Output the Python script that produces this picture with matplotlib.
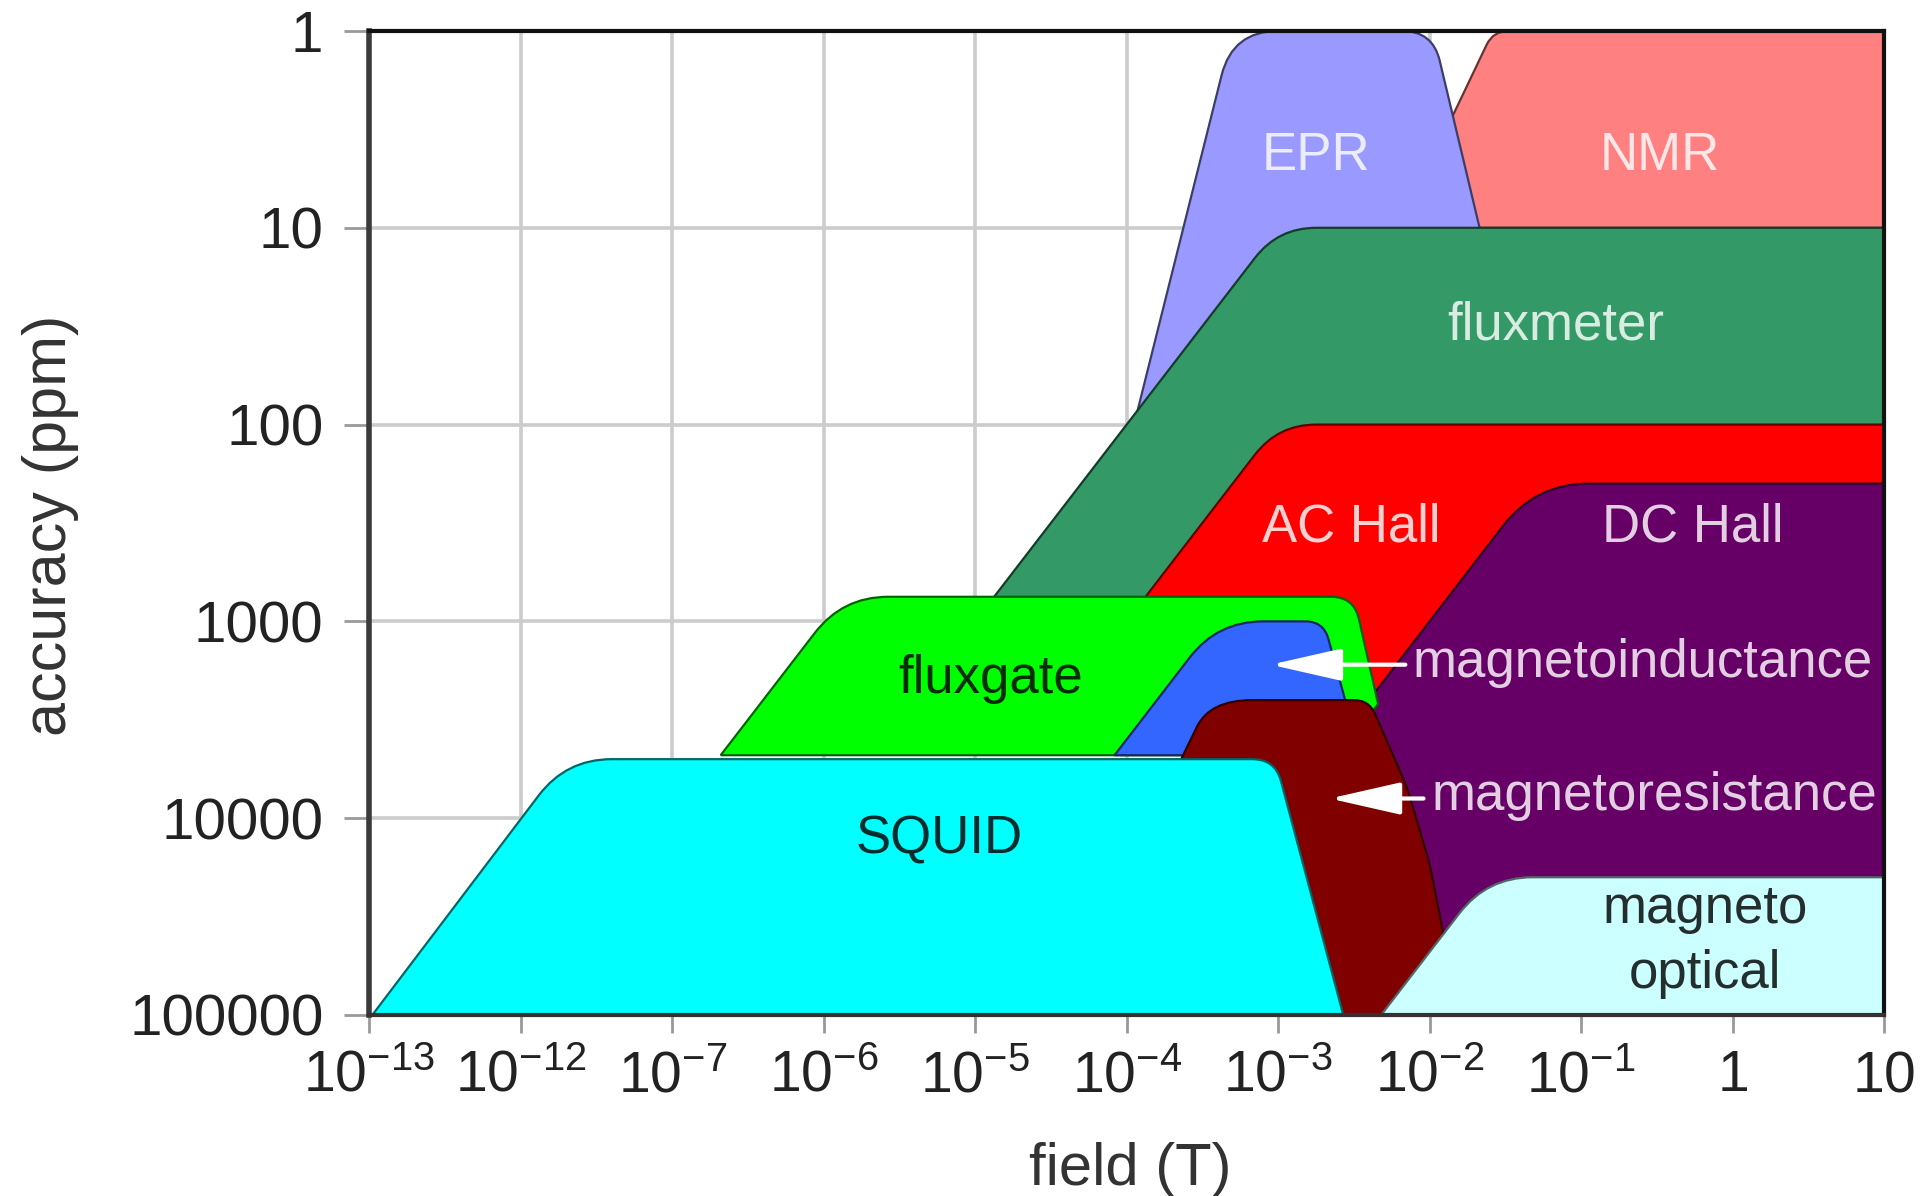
import numpy as np
import matplotlib
matplotlib.use("Agg")
import matplotlib.pyplot as plt
from matplotlib.path import Path
from matplotlib.patches import PathPatch
from matplotlib import font_manager
from matplotlib.colors import to_rgb

# ---------------- data ----------------
# x: position along the (broken) field axis, one unit per tick
# y: log10(accuracy / ppm)
field_ticks = ["$10^{-13}$", "$10^{-12}$", "$10^{-7}$", "$10^{-6}$", "$10^{-5}$",
               "$10^{-4}$", "$10^{-3}$", "$10^{-2}$", "$10^{-1}$", "$1$", "$10$"]
accuracy_ticks = ["1", "10", "100", "1000", "10000", "100000"]

nmr_x = [7.42, 10.0, 10.0, 6.80]
nmr_y = [0.00, 0.00, 1.00, 1.00]

epr_x = [5.00, 5.70, 7.02, 7.33, 7.33, 6.00]
epr_y = [2.15, 0.00, 0.00, 1.00, 1.60, 2.20]

fluxmeter_x = [4.10, 6.00, 10.0, 10.0, 5.30]
fluxmeter_y = [2.90, 1.00, 1.00, 2.10, 2.95]

achall_x = [5.10, 6.00, 10.0, 10.0, 6.80, 5.20]
achall_y = [2.90, 2.00, 2.00, 3.00, 3.45, 3.45]

dchall_x = [6.45, 7.70, 10.0, 10.0, 6.45]
dchall_y = [3.55, 2.30, 2.30, 5.00, 5.00]

fluxgate_x = [2.32, 3.125, 6.50, 6.66, 6.40]
fluxgate_y = [3.68, 2.875, 2.875, 3.42, 3.68]

minduct_x = [4.92, 5.60, 6.30, 6.45, 6.45]
minduct_y = [3.68, 3.00, 3.00, 3.42, 3.68]

mresist_x = [5.36, 5.55, 6.60, 6.85, 7.00, 7.12, 7.20, 6.20]
mresist_y = [3.70, 3.40, 3.40, 3.84, 4.23, 4.70, 5.00, 5.00]

squid_x = [0.02, 1.30, 5.98, 6.43]
squid_y = [5.00, 3.70, 3.70, 5.00]

moptic_x = [6.68, 7.38, 10.0, 10.0]
moptic_y = [5.00, 4.30, 4.30, 5.00]

# ---------------- style ----------------
REG = "Liberation Sans"
plt.rcParams["mathtext.fontset"] = "custom"
plt.rcParams["mathtext.rm"] = REG
plt.rcParams["mathtext.it"] = REG
plt.rcParams["mathtext.bf"] = REG

K = 196.8 / 151.5  # y/x pixel ratio of one axis unit


def rounded(xs, ys, rs):
    P = np.column_stack([xs, ys]).astype(float)
    n = len(P)
    verts, codes = [], []
    for i in range(n):
        p = P[i]
        r = rs[i]
        if r <= 0:
            verts.append(p)
            codes.append(Path.LINETO)
            continue
        a = P[i - 1]
        b = P[(i + 1) % n]

        def cut(q):
            d = q - p
            L = np.hypot(d[0], d[1] * K)
            return p + d * min(r / L, 0.45)

        verts += [cut(a), p, cut(b)]
        codes += [Path.LINETO, Path.CURVE3, Path.CURVE3]
    codes[0] = Path.MOVETO
    verts.append(verts[0])
    codes.append(Path.CLOSEPOLY)
    return Path(verts, codes)


shapes = [
    (nmr_x, nmr_y, [0.10, 0, 0, 0], "#FF8080"),
    (epr_x, epr_y, [0, 0.30, 0.20, 0, 0, 0], "#9999FF"),
    (fluxmeter_x, fluxmeter_y, [0, 0.25, 0, 0, 0], "#339966"),
    (achall_x, achall_y, [0, 0.25, 0, 0, 0, 0], "#FF0000"),
    (dchall_x, dchall_y, [0, 0.35, 0, 0, 0], "#660066"),
    (fluxgate_x, fluxgate_y, [0, 0.30, 0.15, 0, 0], "#00FF00"),
    (minduct_x, minduct_y, [0, 0.30, 0.12, 0, 0], "#3366FF"),
    (mresist_x, mresist_y, [0, 0.28, 0.10, 0.08, 0.08, 0, 0, 0], "#800000"),
    (squid_x, squid_y, [0, 0.30, 0.15, 0], "#00FFFF"),
    (moptic_x, moptic_y, [0, 0.30, 0, 0], "#CCFFFF"),
]

fig = plt.figure(figsize=(19.21, 11.96), dpi=100)
ax = fig.add_axes([369.3 / 1921, 1 - 1015 / 1196, (1884 - 369.3) / 1921, (1015 - 31) / 1196])
ax.set_xlim(0, 10)
ax.set_ylim(5, 0)

ax.set_xticks(range(len(field_ticks)))
ax.set_xticklabels(field_ticks, fontsize=41, color="#222222")
ax.set_yticks(range(len(accuracy_ticks)))
ax.set_yticklabels(accuracy_ticks, fontsize=42, fontfamily=REG, color="#222222")
ax.tick_params(axis="y", length=18, width=2, color="#999999", pad=15)
ax.tick_params(axis="x", length=13, width=2, color="#999999", pad=11)
ax.grid(True, color="#CCCCCC", lw=2.6)
ax.set_axisbelow(True)

for s in ["top", "right"]:
    ax.spines[s].set_color("#111111")
    ax.spines[s].set_linewidth(3)
ax.spines["left"].set_color("#3a3a3a")
ax.spines["left"].set_linewidth(4)
ax.spines["bottom"].set_color("#3a3030")
ax.spines["bottom"].set_linewidth(3)

for i, (xs, ys, rs, col) in enumerate(shapes):
    edge = tuple(c * 0.4 for c in to_rgb(col))
    ax.add_patch(PathPatch(rounded(xs, ys, rs), facecolor=col, edgecolor=edge,
                           lw=1.6, zorder=2 + i * 0.01, clip_on=True))

light = dict(color="white", alpha=0.82, fontsize=38, fontfamily=REG, zorder=5)
dark = dict(color="black", alpha=0.82, fontsize=38, fontfamily=REG, zorder=5)
ax.text(6.25, 0.706, "EPR", ha="center", va="baseline", **light)
ax.text(8.52, 0.706, "NMR", ha="center", va="baseline", **light)
ax.text(7.83, 1.57, "fluxmeter", ha="center", va="baseline", **light)
ax.text(6.48, 2.595, "AC Hall", ha="center", va="baseline", **light)
ax.text(8.74, 2.595, "DC Hall", ha="center", va="baseline", **light)
ax.text(6.89, 3.282, "magnetoinductance", ha="left", va="baseline", **light)
ax.text(7.01, 3.958, "magnetoresistance", ha="left", va="baseline", **light)
ax.text(4.10, 3.364, "fluxgate", ha="center", va="baseline", **dark)
ax.text(3.76, 4.177, "SQUID", ha="center", va="baseline", **dark)
ax.text(8.82, 4.532, "magneto", ha="center", va="baseline", **dark)
ax.text(8.82, 4.863, "optical", ha="center", va="baseline", **dark)

arrow = dict(arrowstyle="-|>,head_length=2.2,head_width=0.5", color="white",
             lw=3, shrinkA=0, shrinkB=0, mutation_scale=20)
ax.annotate("", xy=(5.95, 3.22), xytext=(6.84, 3.22), arrowprops=arrow, zorder=6)
ax.annotate("", xy=(6.34, 3.90), xytext=(6.96, 3.90), arrowprops=arrow, zorder=6)

fig.text(51 / 1921, 1 - 525 / 1196, "accuracy (ppm)", rotation=90, ha="center",
         va="center", fontsize=44, fontfamily=REG, color="#333333")
fig.text(1130 / 1921, 1 - 1185 / 1196, "field (T)", ha="center", va="baseline",
         fontsize=43, fontfamily=REG, color="#333333")

fig.savefig("out.png", dpi=100, facecolor="white")
